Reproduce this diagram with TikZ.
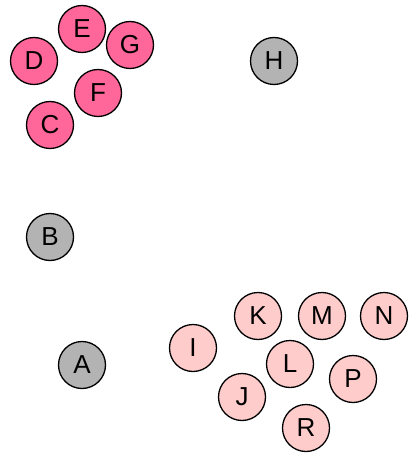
\documentclass[tikz,border=0pt]{standalone}
\usepackage{fontspec}
\setmainfont{Liberation Sans}
\definecolor{hot}{HTML}{FF6699}
\definecolor{light}{HTML}{FFCCCC}
\definecolor{grayn}{HTML}{B3B3B3}
\tikzset{
  vtx/.style={circle,draw=black,line width=1.3pt,minimum size=47pt,inner sep=0pt,font=\fontsize{26}{26}\selectfont},
  hotv/.style={vtx,fill=hot},
  lightv/.style={vtx,fill=light},
  grayv/.style={vtx,fill=grayn}
}
\begin{document}
\begin{tikzpicture}[x=1pt,y=-1pt]
\useasboundingbox (0,0) rectangle (409,454);
\node[hotv] (E) at (82,29) {E};
\node[hotv] (D) at (34,61) {D};
\node[hotv] (G) at (130,45) {G};
\node[hotv] (F) at (98,93) {F};
\node[hotv] (C) at (50,125) {C};
\node[grayv] (H) at (274,61) {H};
\node[grayv] (B) at (50,237) {B};
\node[grayv] (A) at (82,365) {A};
\node[lightv] (K) at (258,316) {K};
\node[lightv] (M) at (322,316) {M};
\node[lightv] (N) at (384,316) {N};
\node[lightv] (I) at (193,348) {I};
\node[lightv] (L) at (290,364) {L};
\node[lightv] (P) at (353,379) {P};
\node[lightv] (J) at (242,397) {J};
\node[lightv] (R) at (306,428) {R};
\end{tikzpicture}
\end{document}
